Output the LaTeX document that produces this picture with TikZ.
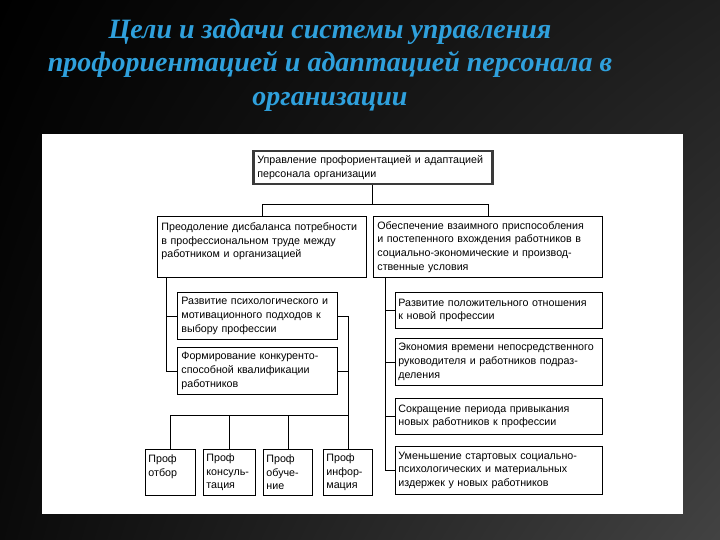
\documentclass[tikz,border=0pt]{standalone}
\usepackage{fontspec}
\setmainfont{Liberation Sans}
\newfontfamily\titlefont{Liberation Serif}
\usepackage{tikz}
\usetikzlibrary{positioning, calc, shadings}
\definecolor{titleblue}{HTML}{2FA0DC}
\definecolor{framegray}{HTML}{3A3A3A}
\tikzset{
  goal box/.style={
    draw=black, thick, fill=white,
    anchor=north west, align=left,
    font=\fontsize{10.7}{13.6}\selectfont,
    inner xsep=4pt, inner ysep=3pt
  },
  main box/.style={goal box, draw=framegray, line width=2.5pt},
  task box/.style={goal box, inner xsep=3pt, text width=201pt},
  prof box/.style={goal box, inner xsep=3pt, minimum height=46pt},
  link/.style={thick, black},
  slide title/.style={
    font=\titlefont\bfseries\itshape\fontsize{28}{33.5}\selectfont,
    text=titleblue, align=center
  }
}

\begin{document}
\begin{tikzpicture}[x=1pt, y=-1pt]
  \useasboundingbox (0,0) rectangle (720,540);

  % Background
  \shade[upper left=black, upper right=black!88, lower left=black!96, lower right=black!74]
    (0,0) rectangle (720,540);
  \fill[white] (42,134) rectangle (683,514);

  % Title
  \node[slide title] (title) at (330,65) {Цели и задачи системы управления\\профориентацией и адаптацией персонала в\\организации};

  % Top level
  \node[main box, text width=231pt, minimum height=33pt] (top) at (252,150)
    {Управление профориентацией и адаптацией\\персонала организации};

  % Goals
  \node[goal box, text width=201pt, minimum height=61pt] (need) at (157,216)
    {Преодоление дисбаланса потребности\\в профессиональном труде между\\работником и организацией\\\mbox{}};
  \node[goal box, text width=221pt, minimum height=61pt] (adapt) at (373,216)
    {Обеспечение взаимного приспособления\\и постепенного вхождения работников в\\социально-экономические и производ-\\ственные условия};

  % Tasks of the first goal
  \node[goal box, text width=152pt, minimum height=47pt] (psy) at (177,292)
    {Развитие психологического и\\мотивационного подходов к\\выбору профессии};
  \node[goal box, text width=152pt, minimum height=47pt] (comp) at (177,347)
    {Формирование конкуренто-\\способной квалификации\\работников};

  % Tasks of the second goal
  \node[task box, minimum height=36pt] (pos) at (395,292)
    {Развитие положительного отношения\\к новой профессии};
  \node[task box, minimum height=47pt] (save) at (395,338)
    {Экономия времени непосредственного\\руководителя и работников подраз-\\деления};
  \node[task box, minimum height=36pt] (short) at (395,398)
    {Сокращение периода привыкания\\новых работников к профессии};
  \node[task box, minimum height=48pt] (cost) at (395,446)
    {Уменьшение стартовых социально-\\психологических и материальных\\издержек у новых работников};

  % Forms of work
  \node[prof box, text width=44pt] (otb) at (145,449) {Проф\\отбор\\\mbox{}};
  \node[prof box, text width=46pt] (kons) at (203,449) {Проф\\консуль-\\тация};
  \node[prof box, text width=43pt] (obu) at (263,449) {Проф\\обуче-\\ние};
  \node[prof box, text width=43pt] (inf) at (323,449) {Проф\\инфор-\\мация};

  % Links from the top box
  \draw[link] (top.south) -- ++(0,19) coordinate (split);
  \draw[link] (need.north) |- (split) -| (adapt.north);

  % Left branch
  \coordinate (ltrunk) at ($(need.south west)+(9,0)$);
  \draw[link] (ltrunk) |- (psy.west);
  \draw[link] (ltrunk) |- (comp.west);
  \coordinate (bus) at ($(inf.north)+(0,-34)$);
  \draw[link] (psy.east) -| (bus);
  \draw[link] (comp.east) -- (comp.east -| bus);
  \draw[link] (otb.north) |- (bus);
  \draw[link] (kons.north) |- (bus);
  \draw[link] (obu.north) |- (bus);
  \draw[link] (inf.north) -- (bus);

  % Right branch
  \coordinate (rtrunk) at ($(adapt.south west)+(12,0)$);
  \draw[link] (rtrunk) |- (cost.west);
  \foreach \t in {pos, save, short}
    \draw[link] (rtrunk) |- (\t.west);

\end{tikzpicture}
\end{document}
